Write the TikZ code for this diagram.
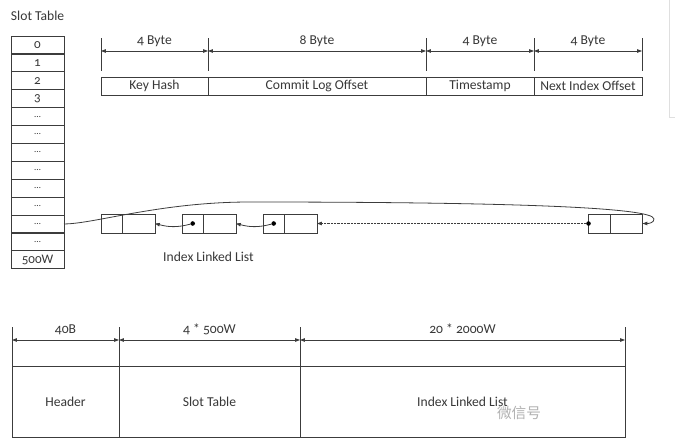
\documentclass[tikz,border=0pt]{standalone}
\usepackage{fontspec}
\setmainfont{Carlito}[Numbers=OldStyle]
\newfontfamily\cjk{Noto Sans CJK SC}
\usetikzlibrary{arrows.meta}
\definecolor{lc}{HTML}{3C3C3C}
\definecolor{txt}{HTML}{383838}
\begin{document}
\begin{tikzpicture}[x=0.75pt,y=-0.75pt,
  every node/.style={font=\fontsize{10.2}{12}\selectfont, text=txt, inner sep=0pt, outer sep=0pt},
  ln/.style={draw=lc, line width=0.6pt},
  tip/.style={-{Triangle[length=3.6pt,width=2.6pt]}},
  dim/.style={ln, {Triangle[length=3.6pt,width=2.6pt]}-{Triangle[length=3.6pt,width=2.6pt]}},
  slot/.style={ln, minimum width=39.75pt, minimum height=13.43pt, font=\fontsize{9.8}{11}\selectfont},
  field/.style={ln, minimum height=13.5pt},
  lcell/.style={ln, minimum width=16.1pt, minimum height=14.25pt, anchor=west},
  rcell/.style={ln, minimum width=24.4pt, minimum height=14.25pt, anchor=west},
  blk/.style={ln, minimum height=53.25pt},
  dot/.style={circle, fill=black, minimum size=3.4pt}]
\useasboundingbox (0,0) rectangle (675,446);
\fill[white] (0,0) rectangle (675,446);
% faint screenshot border
\draw[gray!25, line width=0.5pt] (669,0) -- (669,117) -- (675,117);

% Slot table
\node[anchor=base west] (title) at (11,21) {Slot Table};
\node[slot] (s0) at (37.5,{36+17.9*0.5}) {0};
\node[slot] (s1) at (37.5,{36+17.9*1.5}) {1};
\node[slot] (s2) at (37.5,{36+17.9*2.5}) {2};
\node[slot] (s3) at (37.5,{36+17.9*3.5}) {3};
\foreach \i in {4,5,6,7,8,9,10,11}
  \node[slot] (s\i) at (37.5,{36+17.9*(\i+0.5)}) {\scriptsize\dots};
\node[slot] (s12) at (37.5,{36+17.9*12.5}) {500W};

% Index entry layout
\node[field, minimum width=80.25pt] (kh) at (154.5,86) {Key Hash};
\node[field, minimum width=163.5pt] (clo) at (317,86) {Commit Log Offset};
\node[field, minimum width=81pt] (ts) at (480,86) {Timestamp};
\node[field, minimum width=81pt] (nio) at (588,86) {Next Index Offset};
\foreach \n/\x in {0/101,1/208,2/426,3/534,4/642}{
  \coordinate (t\n) at (\x,38);
  \coordinate (a\n) at (\x,51);
  \draw[ln] (t\n) -- ++(0,33);
}
\draw[dim] (a0) -- node[anchor=base, yshift=4.6pt] (l0) {4 Byte} (a1);
\draw[dim] (a1) -- node[anchor=base, yshift=4.6pt] (l1) {8 Byte} (a2);
\draw[dim] (a2) -- node[anchor=base, yshift=4.6pt] (l2) {4 Byte} (a3);
\draw[dim] (a3) -- node[anchor=base, yshift=4.6pt] (l3) {4 Byte} (a4);

% Linked list
\node[lcell] (b1l) at (101,223.5) {};
\node[rcell] (b1r) at (b1l.east) {};
\node[lcell] (b2l) at (182,223.5) {};
\node[rcell] (b2r) at (b2l.east) {};
\node[lcell] (b3l) at (263,223.5) {};
\node[rcell] (b3r) at (b3l.east) {};
\node[lcell] (b4l) at (588.5,223.5) {};
\node[rcell] (b4r) at (b4l.east) {};
\node[dot] (d2) at (b2l.center) {};
\node[dot] (d3) at (b3l.center) {};
\node[dot] (d4) at (b4l.west) {};
\draw[ln, tip] (d2) to[out=195,in=-15] (b1r.east);
\draw[ln, tip] (d3) to[out=195,in=-15] (b2r.east);
\draw[ln, tip, dash pattern=on 1.6pt off 0.9pt] (d4) -- (b3r.east);
\coordinate (c1) at (250,202);
\coordinate (c2) at (654,219);
\draw[ln, tip] (s10.east) .. controls +(30,0) and +(-90,0) .. (c1)
  .. controls +(250,0) and +(0,-12) .. (c2)
  .. controls +(0,4) and +(6,0) .. (b4r.east);
\node[anchor=base] (ill) at (208.5,261) {Index Linked List};

% File layout
\node[blk, minimum width=80.25pt] (hd) at (65.5,401.5) {Header};
\node[blk, minimum width=135.75pt] (st) at (209.5,401.5) {Slot Table};
\node[blk, minimum width=243.75pt] (il) at (462.5,401.5) {Index Linked List};
\foreach \n/\x in {0/12,1/119,2/300,3/625}{
  \coordinate (u\n) at (\x,327);
  \coordinate (v\n) at (\x,340);
  \draw[ln] (u\n) -- ++(0,39);
}
\draw[dim] (v0) -- node[anchor=base, yshift=4.9pt] (m0) {40B} (v1);
\draw[dim] (v1) -- node[anchor=base, yshift=4.9pt] (m1) {4 * 500W} (v2);
\draw[dim] (v2) -- node[anchor=base, yshift=4.9pt] (m2) {20 * 2000W} (v3);

% watermark
\node[text=gray!60, font=\cjk\fontsize{11}{12}\selectfont, anchor=west] (wm) at (497,413) {微信号};
\end{tikzpicture}
\end{document}
